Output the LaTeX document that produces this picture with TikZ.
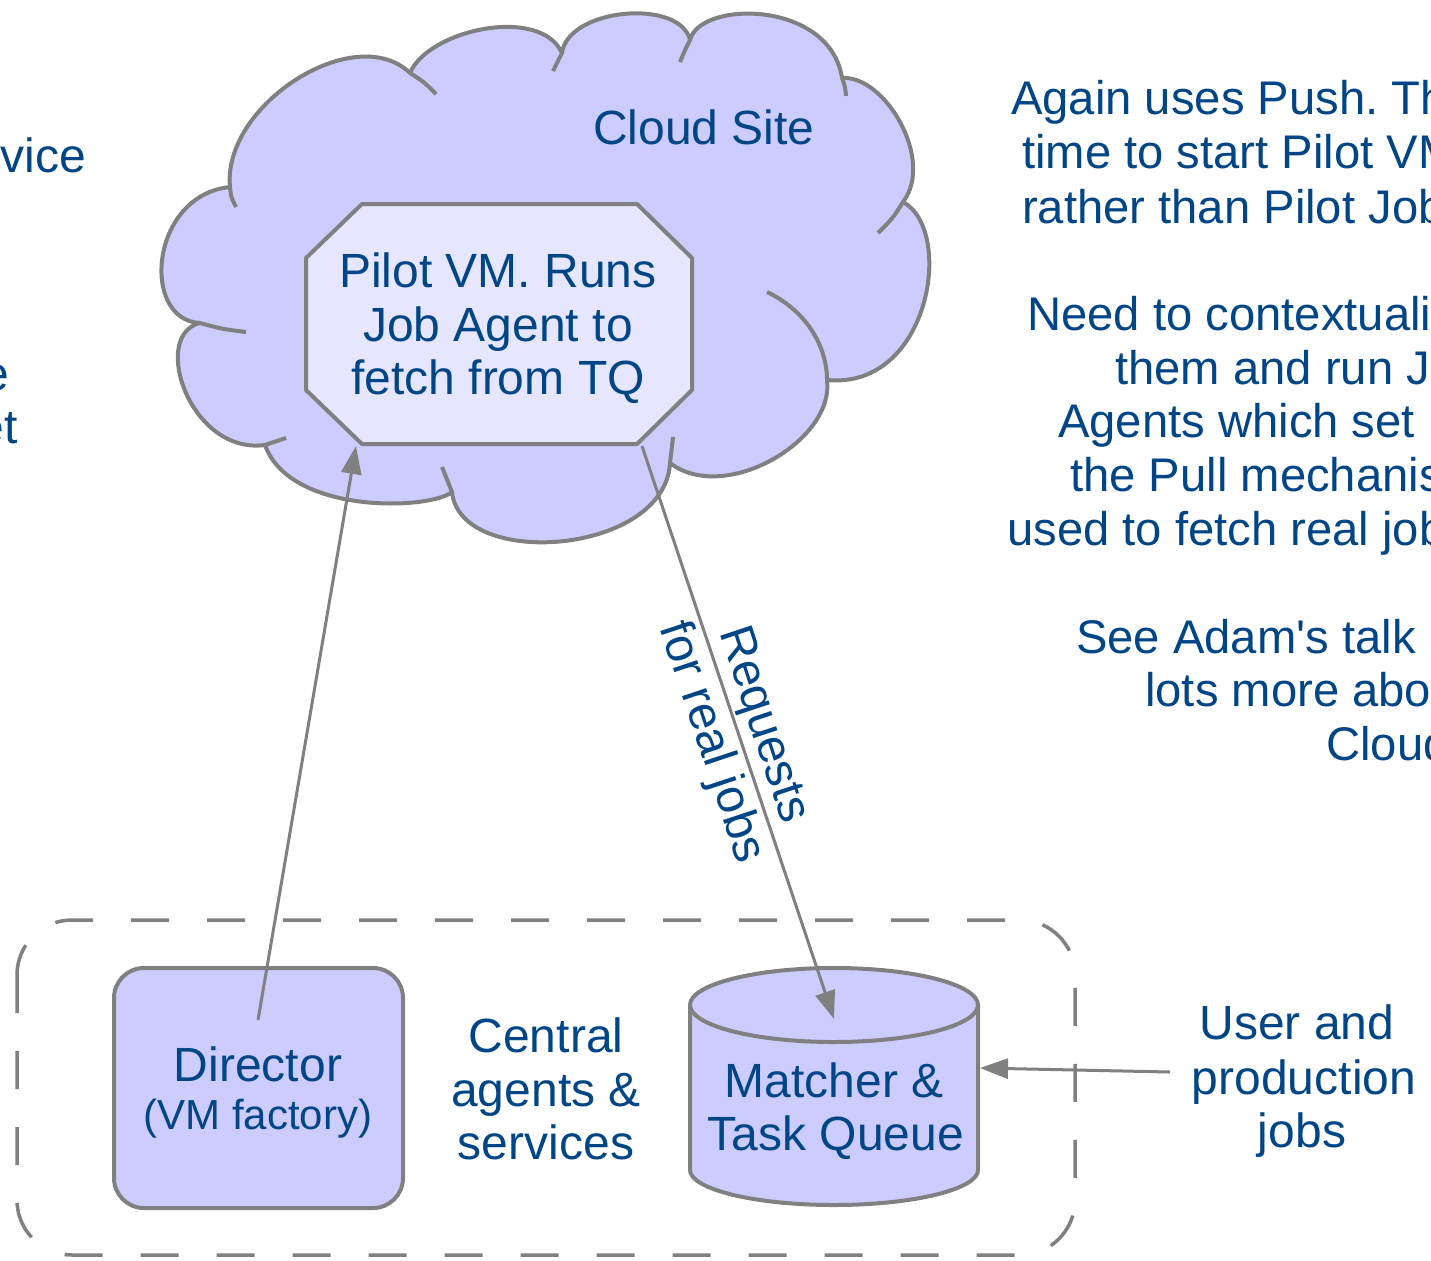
\documentclass[tikz,border=0pt]{standalone}
\usepackage{fontspec}
\setmainfont{Liberation Sans}[Ligatures=TeXOff]
\usetikzlibrary{arrows.meta}
\definecolor{txtblue}{HTML}{004586}
\definecolor{edgegray}{HTML}{808080}
\definecolor{lav}{HTML}{CCCCFF}
\definecolor{lavpale}{HTML}{E6E6FF}
\frenchspacing
\begin{document}
\begin{tikzpicture}[x=1pt,y=-1pt,
  lbl/.style={text=txtblue,inner sep=0pt,font=\frenchspacing\fontsize{48}{55}\selectfont},
  lblnote/.style={text=txtblue,inner sep=0pt,font=\frenchspacing\fontsize{47.2}{54}\selectfont},
  lblsmall/.style={text=txtblue,inner sep=0pt,font=\fontsize{42}{48}\selectfont},
  shapeline/.style={draw=edgegray,line width=4pt,line join=round},
  cloudtick/.style={draw=edgegray,line width=4pt},
  conn/.style={draw=edgegray,line width=3pt,-{Triangle[length=28pt,width=20pt]}},
  groupbox/.style={draw=edgegray,line width=3.5pt,dash pattern=on 38pt off 38pt},
]
\useasboundingbox (0,0) rectangle (1431,1260);
\fill[white] (0,0) rectangle (1431,1260);

% left cropped text fragments
\node[lbl,anchor=base east] (lfragA) at (86,172) {rvice};
\node[lbl,anchor=base east] (lfragB) at (9,390) {e};
\node[lbl,anchor=base east] (lfragC) at (18,443) {et};

% cloud
\path[shapeline,fill=lav] (230,187)
 .. controls (222,105) and (355,20) .. (410,73)
 .. controls (428,30) and (540,5) .. (562,53)
 .. controls (568,8) and (680,-2) .. (690,40)
 .. controls (700,0) and (830,0) .. (842,78)
 .. controls (885,75) and (935,160) .. (903,202)
 .. controls (955,230) and (930,390) .. (827,380)
 .. controls (835,440) and (725,505) .. (670,463)
 .. controls (665,555) and (460,570) .. (452,492)
 .. controls (430,510) and (290,515) .. (265,445)
 .. controls (190,455) and (150,335) .. (200,323)
 .. controls (140,320) and (150,195) .. (230,187) -- cycle;
\path[cloudtick] (230,187) .. controls (231,197) .. (236,207);
\path[cloudtick] (410,73) .. controls (424,82) .. (436,94);
\path[cloudtick] (562,53) .. controls (558,62) .. (553,71);
\path[cloudtick] (690,40) .. controls (685,50) .. (680,62);
\path[cloudtick] (842,78) .. controls (845,86) .. (846,96);
\path[cloudtick] (903,202) .. controls (893,218) .. (878,233);
\path[cloudtick] (767,292) .. controls (805,310) and (827,345) .. (827,380);
\path[cloudtick] (670,463) .. controls (671,450) .. (673,437);
\path[cloudtick] (452,492) .. controls (447,480) .. (442,467);
\path[cloudtick] (265,445) .. controls (275,442) .. (286,438);
\path[cloudtick] (200,323) .. controls (222,329) .. (246,332);
\node[lbl,anchor=base] (cloudsite) at (704,145) {Cloud Site};

% pilot VM octagon
\path[shapeline,fill=lavpale] (362,204) -- (637,204) -- (692,258) -- (692,390)
  -- (637,444) -- (362,444) -- (306,390) -- (306,258) -- cycle;
\node[lbl,anchor=base] (pvA) at (498,287) {Pilot VM. Runs};
\node[lbl,anchor=base] (pvB) at (498,341) {Job Agent to};
\node[lbl,anchor=base] (pvC) at (498,394) {fetch from TQ};

% right explanatory text (cropped by the page edge)
\node[lblnote,anchor=base west] (rtA) at (1011,115) {Again uses Push. Th};
\node[lblnote,anchor=base west] (rtB) at (1022,169) {time to start Pilot VM};
\node[lblnote,anchor=base west] (rtC) at (1022,223) {rather than Pilot Job};
\node[lblnote,anchor=base west] (rtD) at (1027,330) {Need to contextuali};
\node[lblnote,anchor=base west] (rtE) at (1115,384) {them and run J};
\node[lblnote,anchor=base west] (rtF) at (1058,437) {Agents which set};
\node[lblnote,anchor=base west] (rtG) at (1070,491) {the Pull mechanis};
\node[lblnote,anchor=base west] (rtH) at (1007,545) {used to fetch real job};
\node[lblnote,anchor=base west] (rtI) at (1076,653) {See Adam's talk};
\node[lblnote,anchor=base west] (rtJ) at (1145,706) {lots more abo};
\node[lblnote,anchor=base west] (rtK) at (1326,760) {Cloud};

% central group
\path[groupbox,rounded corners=55pt] (17,920) rectangle (1075,1255);

\path[shapeline,fill=lav,rounded corners=30pt] (114,968) rectangle (403,1208);
\node[lbl,anchor=base] (dirA) at (258,1081) {Director};
\node[lblsmall,anchor=base] (dirB) at (258,1129) {(VM factory)};

\node[lbl,anchor=base] (cenA) at (546,1052) {Central};
\node[lbl,anchor=base] (cenB) at (546,1106) {agents \&};
\node[lbl,anchor=base] (cenC) at (546,1159) {services};

% task queue cylinder
\path[shapeline,fill=lav] (690,1005) -- (690,1170)
  .. controls (690,1189) and (754,1205) .. (834,1205)
  .. controls (914,1205) and (978,1189) .. (978,1170) -- (978,1005) -- cycle;
\path[shapeline,fill=lav] (834,1005) ellipse [x radius=144, y radius=37];
\node[lbl,anchor=base] (tqA) at (834,1097) {Matcher \&};
\node[lbl,anchor=base] (tqB) at (836,1150) {Task Queue};

\node[lbl,anchor=base] (ujA) at (1297,1039) {User and};
\node[lbl,anchor=base] (ujB) at (1304,1094) {production};
\node[lbl,anchor=base] (ujC) at (1302,1147) {jobs};

% connectors
\coordinate (dirtop) at (258,1020);
\coordinate (pilotfoot) at (356,446);
\coordinate (pilotcorner) at (642,446);
\coordinate (tqtop) at (834,1019);
\coordinate (userjobs) at (1170,1072);
\coordinate (tqright) at (980,1068);
\draw[conn] (dirtop) -- (pilotfoot);
\draw[conn] (pilotcorner) -- (tqtop);
\draw[conn] (userjobs) -- (tqright);
\node[lbl,rotate=-71.6,align=center] (reqlabel) at (736,734) {Requests\\for real jobs};
\end{tikzpicture}
\end{document}
